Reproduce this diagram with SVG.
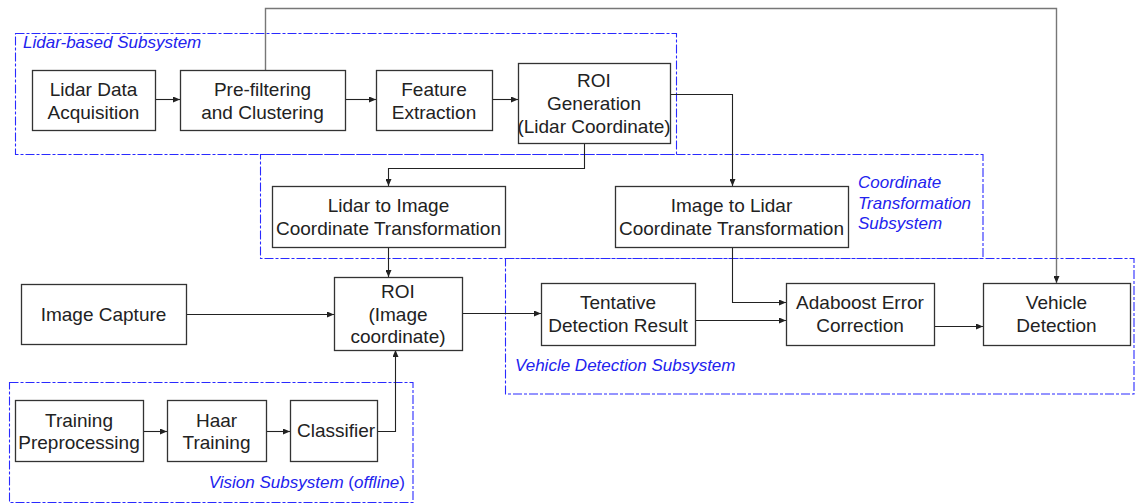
<svg xmlns="http://www.w3.org/2000/svg" width="1135" height="504" viewBox="0 0 1135 504">
  <defs>
    <marker id="arrow" markerUnits="userSpaceOnUse" markerWidth="8" markerHeight="6" refX="7" refY="3" orient="auto">
      <path d="M0,0 L7,3 L0,6 z" fill="#222"/>
    </marker>
    <style>
      .node rect { fill: #fff; stroke: #333; stroke-width: 1.3; }
      .node text { font-family: "Liberation Sans", Arial, sans-serif; font-size: 19px; fill: #222; text-anchor: middle; }
      .group { fill: none; stroke: #2a2aff; stroke-width: 1.1; stroke-dasharray: 9 2 3 2; }
      .label { font-family: "Liberation Sans", Arial, sans-serif; font-size: 17px; font-style: italic; fill: #2222ee; }
      .up { font-style: normal; }
      .conn path { fill: none; stroke: #222; stroke-width: 1.1; }
      .conn path.arrow { marker-end: url(#arrow); }
      .conn path.grey { stroke: #777; stroke-width: 1.4; }
    </style>
  </defs>

  <rect width="1135" height="504" fill="#fff"/>

  <!-- subsystem frames -->
  <g id="subsystems">
    <rect class="group" x="15.5" y="33.5" width="661" height="121"/>
    <text class="label" x="23" y="48">Lidar-based Subsystem</text>

    <rect class="group" x="260.5" y="154.5" width="722.5" height="104"/>
    <text class="label" x="858" y="188">Coordinate</text>
    <text class="label" x="858" y="209">Transformation</text>
    <text class="label" x="858" y="229">Subsystem</text>

    <rect class="group" x="505.5" y="258.5" width="628.5" height="135.5"/>
    <text class="label" x="515" y="371">Vehicle Detection Subsystem</text>

    <rect class="group" x="9.5" y="382.5" width="403.5" height="120"/>
    <text class="label" x="405" y="488" text-anchor="end">Vision Subsystem <tspan class="up">(</tspan>offline<tspan class="up">)</tspan></text>
  </g>

  <!-- connectors -->
  <g id="connectors" class="conn">
    <path class="arrow" d="M155,99.5 H180"/>
    <path class="arrow" d="M345,99.5 H376"/>
    <path class="arrow" d="M492,99.5 H518"/>
    <path class="grey arrow" d="M265.5,70 V8.5 H1056.5 V283"/>
    <path class="arrow" d="M670,94.5 H732.5 V186"/>
    <path class="arrow" d="M584.5,143 V168.5 H388.5 V186"/>
    <path class="arrow" d="M388.5,247 V277"/>
    <path class="arrow" d="M732.5,247 V302.5 H786"/>
    <path class="arrow" d="M186,314.5 H334"/>
    <path class="arrow" d="M377,431.5 H395.5 V350"/>
    <path class="arrow" d="M462,313.5 H541"/>
    <path class="arrow" d="M695,320.5 H786"/>
    <path class="arrow" d="M934,326.5 H983"/>
    <path class="arrow" d="M143,431.5 H167"/>
    <path class="arrow" d="M266,431.5 H290"/>
  </g>

  <!-- processing blocks -->
  <g id="lidar-acquisition" class="node">
    <rect x="32.5" y="70.5" width="123" height="60"/>
    <text x="93.5" y="96">Lidar Data</text>
    <text x="93.5" y="119">Acquisition</text>
  </g>
  <g id="prefiltering" class="node">
    <rect x="180.5" y="70.5" width="165" height="60"/>
    <text x="262.5" y="96">Pre-filtering</text>
    <text x="262.5" y="119">and Clustering</text>
  </g>
  <g id="feature-extraction" class="node">
    <rect x="376.5" y="70.5" width="116" height="60"/>
    <text x="434" y="96">Feature</text>
    <text x="434" y="119">Extraction</text>
  </g>
  <g id="roi-generation" class="node">
    <rect x="518.5" y="63.5" width="152" height="80"/>
    <text x="594" y="87">ROI</text>
    <text x="594" y="110">Generation</text>
    <text x="594" y="133">(Lidar Coordinate)</text>
  </g>
  <g id="lidar-to-image" class="node">
    <rect x="272.5" y="186.5" width="233" height="61"/>
    <text x="388.5" y="212">Lidar to Image</text>
    <text x="388.5" y="235">Coordinate Transformation</text>
  </g>
  <g id="image-to-lidar" class="node">
    <rect x="615.5" y="186.5" width="233" height="61"/>
    <text x="731.5" y="212">Image to Lidar</text>
    <text x="731.5" y="235">Coordinate Transformation</text>
  </g>
  <g id="image-capture" class="node">
    <rect x="21.5" y="284.5" width="165" height="60"/>
    <text x="103.5" y="321">Image Capture</text>
  </g>
  <g id="roi-image" class="node">
    <rect x="334.5" y="277.5" width="128" height="73"/>
    <text x="398" y="298">ROI</text>
    <text x="398" y="321">(Image</text>
    <text x="398" y="343">coordinate)</text>
  </g>
  <g id="training-preprocessing" class="node">
    <rect x="15.5" y="400.5" width="128" height="61"/>
    <text x="79" y="427">Training</text>
    <text x="79" y="449">Preprocessing</text>
  </g>
  <g id="haar-training" class="node">
    <rect x="167.5" y="400.5" width="99" height="61"/>
    <text x="216.5" y="427">Haar</text>
    <text x="216.5" y="449">Training</text>
  </g>
  <g id="classifier" class="node">
    <rect x="290.5" y="400.5" width="87" height="61"/>
    <text x="336" y="437">Classifier</text>
  </g>
  <g id="tentative-detection" class="node">
    <rect x="541.5" y="283.5" width="154" height="62"/>
    <text x="618" y="309">Tentative</text>
    <text x="618" y="332">Detection Result</text>
  </g>
  <g id="adaboost" class="node">
    <rect x="786.5" y="283.5" width="148" height="62"/>
    <text x="860" y="309">Adaboost Error</text>
    <text x="860" y="332">Correction</text>
  </g>
  <g id="vehicle-detection" class="node">
    <rect x="983.5" y="283.5" width="147" height="62"/>
    <text x="1056.5" y="309">Vehicle</text>
    <text x="1056.5" y="332">Detection</text>
  </g>
</svg>
